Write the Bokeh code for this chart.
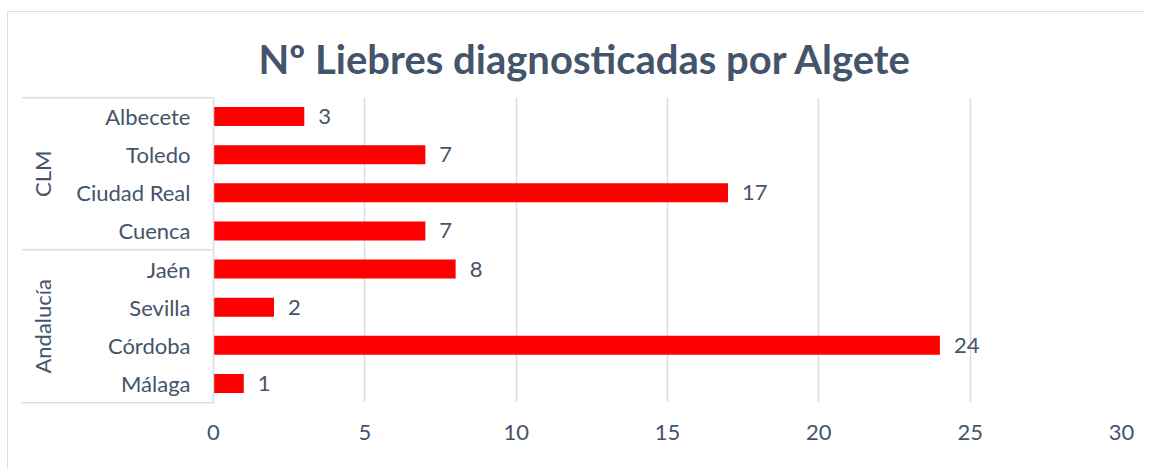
from bokeh.plotting import figure
from bokeh.models import FactorRange, Range1d, ColumnDataSource, FixedTicker
from bokeh.core.properties import value
from bokeh.embed import file_html
from bokeh.resources import INLINE

title = "Nº Liebres diagnosticadas por Algete"
groups = ["Andalucía", "Andalucía", "Andalucía", "Andalucía", "CLM", "CLM", "CLM", "CLM"]
provinces = ["Málaga", "Córdoba", "Sevilla", "Jaén", "Cuenca", "Ciudad Real", "Toledo", "Albecete"]
counts = [1, 24, 2, 8, 7, 17, 7, 3]
x_ticks = [0, 5, 10, 15, 20, 25, 30]

FONT = "Lato"
TXT = "#44546A"
GRID = "#D9DEE6"

factors = list(zip(groups, provinces))
src = ColumnDataSource(dict(y=factors, x=counts, lab=[str(c) for c in counts]))

p = figure(
    y_range=FactorRange(*factors, factor_padding=0, group_padding=0, range_padding=0),
    x_range=Range1d(0, 30),
    frame_width=908, frame_height=305,
    min_border_left=205, min_border_right=23, min_border_top=85, min_border_bottom=67,
    output_backend="svg", toolbar_location=None,
)
# chart border (top/left visible in the crop) and the category-table rules left of the axis
g = f"linear-gradient({GRID},{GRID})"
p.styles = {
    "border-top": f"1px solid {GRID}",
    "border-left": f"1px solid {GRID}",
    "margin-left": "7px",
    "margin-top": "11px",
    "background-color": "white",
    "background-image": f"{g}, {g}, {g}",
    "background-size": "192px 1.5px, 192px 1.5px, 192px 1.5px",
    "background-position": "14px 85px, 14px 237px, 14px 389.5px",
    "background-repeat": "no-repeat",
}
p.border_fill_color = None
p.background_fill_color = "white"

p.title.text = title
p.title.align = "left"
p.title.text_font = FONT
p.title.text_font_style = "bold"
p.title.text_font_size = "40px"
p.title.text_color = TXT
p.title.offset = 45
p.title.standoff = 30
p.outline_line_color = None

p.hbar(y="y", right="x", left=0, height=0.5, source=src, fill_color="#FF0000", line_color=None)
p.text(x="x", y="y", text="lab", source=src, x_offset=14, text_baseline="middle",
       text_font=value(FONT), text_font_size="22px", text_color=TXT)

xa = p.xaxis[0]
xa.ticker = FixedTicker(ticks=x_ticks)
xa.axis_line_color = None
xa.major_tick_line_color = None
xa.minor_tick_line_color = None
xa.major_label_standoff = 16
xa.major_label_text_font = FONT
xa.major_label_text_font_size = "22px"
xa.major_label_text_color = TXT

ya = p.yaxis[0]
ya.axis_line_color = GRID
ya.axis_line_width = 1.5
ya.major_tick_line_color = None
ya.minor_tick_line_color = None
ya.major_label_standoff = 17
ya.major_label_text_font = FONT
ya.major_label_text_font_size = "22px"
ya.major_label_text_color = TXT
ya.group_text_font = FONT
ya.group_text_font_size = "22px"
ya.group_text_color = TXT
ya.group_text_font_style = "normal"
ya.separator_line_color = None

p.xgrid.grid_line_color = GRID
p.xgrid.grid_line_width = 1.5
p.ygrid.grid_line_color = None

open("out.html", "w").write(file_html(p, INLINE))
